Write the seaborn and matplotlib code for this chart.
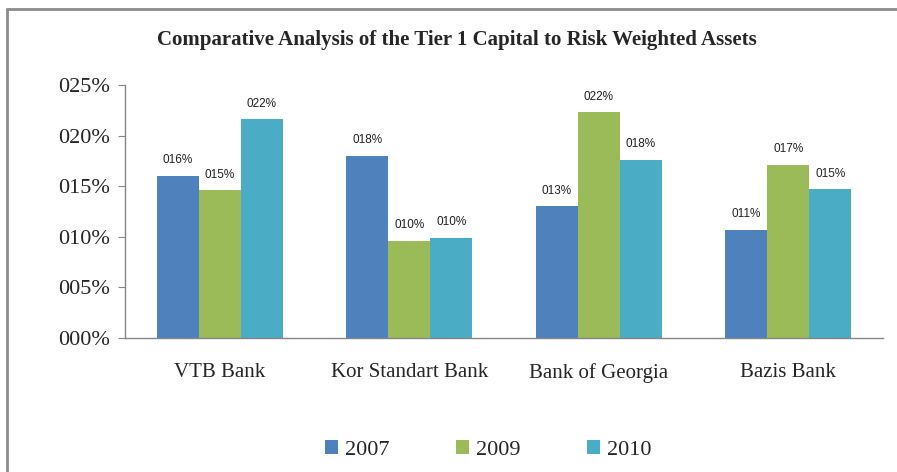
import numpy as np
import pandas as pd
import matplotlib
matplotlib.use("Agg")
import matplotlib.pyplot as plt
import seaborn as sns
from matplotlib.lines import Line2D
from matplotlib.ticker import FixedLocator

banks = ["VTB Bank", "Kor Standart Bank", "Bank of Georgia", "Bazis Bank"]
years = ["2007", "2009", "2010"]
v2007 = [0.160, 0.180, 0.130, 0.107]
v2009 = [0.146, 0.096, 0.223, 0.171]
v2010 = [0.216, 0.099, 0.176, 0.147]
colors = ["#4F81BD", "#9BBB59", "#4BACC6"]
yticks = [0.00, 0.05, 0.10, 0.15, 0.20, 0.25]

df = pd.DataFrame({
    "Bank": banks * 3,
    "Year": [y for y in years for _ in banks],
    "Value": v2007 + v2009 + v2010,
})

sns.set_style("white")
plt.rcParams["font.family"] = ["Liberation Serif", "DejaVu Serif"]

fig = plt.figure(figsize=(8.97, 4.72), dpi=100)
ax = fig.add_axes([125 / 897, 134 / 472, 758 / 897, 253 / 472])

sns.barplot(data=df, x="Bank", y="Value", hue="Year", palette=colors,
            width=0.667, gap=0, ax=ax, saturation=1, edgecolor="none")

ax.set_ylim(0, 0.25)
ax.set_xlim(-0.5, len(banks) - 0.5)
ax.set_yticks(yticks)
ax.set_yticklabels([f"{round(t * 100):03d}%" for t in yticks], fontsize=16)
ax.set_xlabel("")
ax.set_ylabel("")

ax.tick_params(axis="x", which="major", length=0, pad=18, labelsize=15)
ax.xaxis.set_minor_locator(FixedLocator(np.arange(-0.5, len(banks), 1.0)))
ax.tick_params(axis="x", which="minor", length=6, color="#868686", direction="out")
ax.tick_params(axis="y", length=5, color="#868686", direction="out", pad=6, left=True)

for s in ["top", "right"]:
    ax.spines[s].set_visible(False)
for s in ["left", "bottom"]:
    ax.spines[s].set_color("#868686")
    ax.spines[s].set_linewidth(1)

for cont in ax.containers:
    for bar in cont:
        h = bar.get_height()
        ax.annotate(f"{round(h * 100):03d}%", (bar.get_x() + bar.get_width() / 2, h),
                    xytext=(0, 7), textcoords="offset points", ha="center", va="bottom",
                    fontsize=8.5, family=["Liberation Sans", "DejaVu Sans"], color="#222222")

handles, labels = ax.get_legend_handles_labels()
ax.legend(handles, labels, loc="center", bbox_to_anchor=(488 / 897, 22 / 472),
          bbox_transform=fig.transFigure, ncol=3, frameon=False, fontsize=16,
          handlelength=0.6, handleheight=0.6, handletextpad=0.3, columnspacing=3.0)

fig.text(457 / 897, 1 - 40 / 472, "Comparative Analysis of the Tier 1 Capital to Risk Weighted Assets",
         ha="center", va="center", fontsize=15, fontweight="bold")

fig.add_artist(Line2D([6.5 / 897, 6.5 / 897], [0, 1 - 9 / 472], transform=fig.transFigure,
                      color="#8C8C8C", lw=2))
fig.add_artist(Line2D([6.5 / 897, 1], [1 - 9 / 472, 1 - 9 / 472], transform=fig.transFigure,
                      color="#8C8C8C", lw=2))

fig.savefig("out.png", dpi=100)
